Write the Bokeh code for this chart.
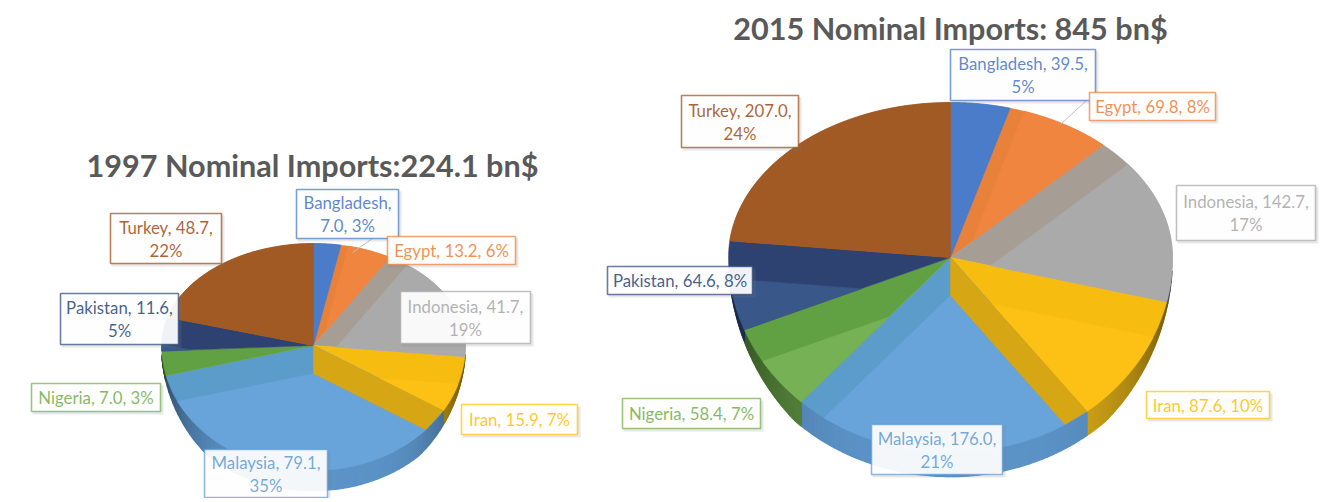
import math
from bokeh.plotting import figure
from bokeh.models import ColumnDataSource, Range1d
from bokeh.core.properties import value
from bokeh.embed import file_html
from bokeh.resources import INLINE

# ---- data ----
countries = ["Bangladesh", "Egypt", "Indonesia", "Iran", "Malaysia", "Nigeria", "Pakistan", "Turkey"]
values_1997 = [7.0, 13.2, 41.7, 15.9, 79.1, 7.0, 11.6, 48.7]
values_2015 = [39.5, 69.8, 142.7, 87.6, 176.0, 58.4, 64.6, 207.0]
labels_1997 = ["Bangladesh,\n7.0, 3%", "Egypt, 13.2, 6%", "Indonesia, 41.7,\n19%", "Iran, 15.9, 7%",
               "Malaysia, 79.1,\n35%", "Nigeria, 7.0, 3%", "Pakistan, 11.6,\n5%", "Turkey, 48.7,\n22%"]
labels_2015 = ["Bangladesh, 39.5,\n5%", "Egypt, 69.8, 8%", "Indonesia, 142.7,\n17%", "Iran, 87.6, 10%",
               "Malaysia, 176.0,\n21%", "Nigeria, 58.4, 7%", "Pakistan, 64.6, 8%", "Turkey, 207.0,\n24%"]
title_1997 = "1997 Nominal Imports:224.1 bn$"
title_2015 = "2015 Nominal Imports: 845 bn$"

# ---- styles ----
base_col = ["#4472c4", "#ed7d31", "#a5a5a5", "#ffc000", "#5b9bd5", "#70ad47", "#264478", "#9e480e"]
light_col = ["#4a7cc9", "#ef853f", "#aaaaaa", "#fcc114", "#68a3da", "#76b255", "#3a5789", "#a25a25"]
band_col = ["#4777c6", "#e8813a", "#a69d95", "#f7bc10", "#5b9ccb", "#62a044", "#2e4272", "#9c5522"]
wall_col = ["#3a62a8", "#c96a2a", "#8c8c8c", "#d6a818", "#5c94c8", "#5a8c3e", "#2f4a7a", "#84400f"]
gold_wall = "#d6a614"

# ---- layout in page pixels of the picture ----
pie_1997 = dict(cx=313, cy=345, rx=152, top=102, bot=125, shift=28, depth=20)
pie_2015 = dict(cx=950, cy=257, rx=222, top=155, bot=195, shift=38, depth=24)
perspective = 0.075
boxes_1997 = [(296, 189, 398, 238), (387, 236, 515, 264), (400, 291, 530, 343), (461, 404, 577, 434),
              (204, 449, 327, 497), (31, 383, 160, 411), (60, 293, 178, 344), (110, 213, 221, 263)]
boxes_2015 = [(950, 49, 1095, 100), (1089, 92, 1215, 120), (1176, 185, 1315, 240), (1146, 391, 1269, 418),
              (871, 424, 1002, 474), (622, 398, 760, 428), (607, 266, 752, 294), (681, 95, 798, 147)]

W, H = 1321, 498
p = figure(width=W, height=H, output_backend="svg", toolbar_location=None,
           x_range=Range1d(0, W), y_range=Range1d(H, 0),
           min_border=0, outline_line_color=None, background_fill_color="white")
p.axis.visible = False
p.xgrid.visible = False
p.ygrid.visible = False


def rim(g, t):
    t = t - perspective * math.sin(t)
    c = math.cos(t)
    return g["cx"] + g["rx"] * math.sin(t), g["cy"] - (g["top"] if c > 0 else g["bot"]) * c


def inside(g, x, y):
    ry = g["top"] if y < g["cy"] else g["bot"]
    return ((x - g["cx"]) / g["rx"]) ** 2 + ((y - g["cy"]) / ry) ** 2 <= 1


def ray_exit(g, t):
    x0, y0 = g["cx"], g["cy"] + g["shift"]
    rx, ry = rim(g, t)
    dx, dy = rx - g["cx"], ry - g["cy"]
    lo, hi = 0.0, 3.0
    for _ in range(40):
        m = (lo + hi) / 2
        if inside(g, x0 + dx * m, y0 + dy * m):
            lo = m
        else:
            hi = m
    return x0 + dx * lo, y0 + dy * lo


def clip(poly, a, b):
    def side(q):
        return (b[0] - a[0]) * (q[1] - a[1]) - (b[1] - a[1]) * (q[0] - a[0])
    out = []
    for i, q in enumerate(poly):
        r = poly[(i + 1) % len(poly)]
        sq, sr = side(q), side(r)
        if sq >= 0:
            out.append(q)
        if (sq >= 0) != (sr >= 0):
            f = sq / (sq - sr)
            out.append((q[0] + (r[0] - q[0]) * f, q[1] + (r[1] - q[1]) * f))
    return out


def shade(col, f):
    r, g, b = int(col[1:3], 16), int(col[3:5], 16), int(col[5:7], 16)
    return "#%02x%02x%02x" % (int(r * (1 - f)), int(g * (1 - f)), int(b * (1 - f)))


def draw_pie(g, vals):
    total = sum(vals)
    c = (g["cx"], g["cy"])
    c2 = (g["cx"], g["cy"] + g["shift"])
    ends = []
    run = 0.0
    for v in vals:
        ends.append((run / total * 2 * math.pi, (run + v) / total * 2 * math.pi))
        run += v

    def drop(t):
        return g["depth"] * min(1.0, max(0.0, -math.cos(t) - 0.15) / 0.6)

    walls, tops, lights, quads = [], [], [], []
    for i, (t0, t1) in enumerate(ends):
        ts = [t0 + (t1 - t0) * k / 60 for k in range(61)]
        arc = [rim(g, t) for t in ts]
        for a, b in zip(ts[:-1], ts[1:]):
            if -math.cos(a) > 0.15 or -math.cos(b) > 0.15:
                xa, ya = rim(g, a)
                xb, yb = rim(g, b)
                f = 0.55 * abs(math.sin((a + b) / 2)) ** 4
                walls.append(([(xa, ya), (xb, yb), (xb, yb + drop(b)), (xa, ya + drop(a))],
                              shade(wall_col[i], f)))
        tops.append(([c] + arc, band_col[i]))
        shifted = [c2] + [ray_exit(g, t) for t in ts]
        r0, r1 = rim(g, t0), rim(g, t1)
        shifted = clip(shifted, c, r0)
        shifted = clip(shifted, r1, c)
        if shifted:
            lights.append((shifted, light_col[i]))
        if countries[i] == "Iran":
            quads.append(([c, c2, ray_exit(g, t1), r1], gold_wall))
    for layer, lw in ((walls, 1.5), (tops, 0.5), (lights, 0.5), (quads, 0.5)):
        src = ColumnDataSource(dict(
            xs=[[q[0] for q in poly] for poly, _ in layer],
            ys=[[q[1] for q in poly] for poly, _ in layer],
            col=[col for _, col in layer]))
        p.patches("xs", "ys", source=src, fill_color="col", line_color="col", line_width=lw)


def draw_labels(boxes, labels):
    font = value("Lato")
    for (x0, y0, x1, y1), lab, col in zip(boxes, labels, base_col):
        xm, ym = (x0 + x1) / 2, (y0 + y1) / 2
        p.quad(left=[x0 + 1], right=[x1 + 3], top=[y0 + 2], bottom=[y1 + 3],
               fill_color="#808080", fill_alpha=0.18, line_color=None)
        p.quad(left=[x0], right=[x1], top=[y0], bottom=[y1],
               fill_color="white", fill_alpha=0.93, line_color=col, line_alpha=0.7, line_width=1.6)
        lines = lab.split("\n")
        n = len(lines)
        for k, ln in enumerate(lines):
            yy = ym + (k - (n - 1) / 2) * 23
            p.text([xm], [yy], text=[ln], text_font=font, text_font_size="16.8px", text_color=col,
                   text_alpha=0.85, text_align="center", text_baseline="middle")


draw_pie(pie_1997, values_1997)
draw_pie(pie_2015, values_2015)

# leader lines
p.line([352, 372], [252, 238], line_color="#bfbfbf", line_width=1)
p.line([1060, 1086], [124, 100], line_color="#bfbfbf", line_width=1)

draw_labels(boxes_1997, labels_1997)
draw_labels(boxes_2015, labels_2015)

p.text([312], [165], text=[title_1997], text_font=value("Lato"), text_font_style="bold",
       text_font_size="30.6px", text_color="#595959", text_align="center", text_baseline="middle")
p.text([950], [28], text=[title_2015], text_font=value("Lato"), text_font_style="bold",
       text_font_size="30.6px", text_color="#595959", text_align="center", text_baseline="middle")

open("out.html", "w").write(file_html(p, INLINE))
